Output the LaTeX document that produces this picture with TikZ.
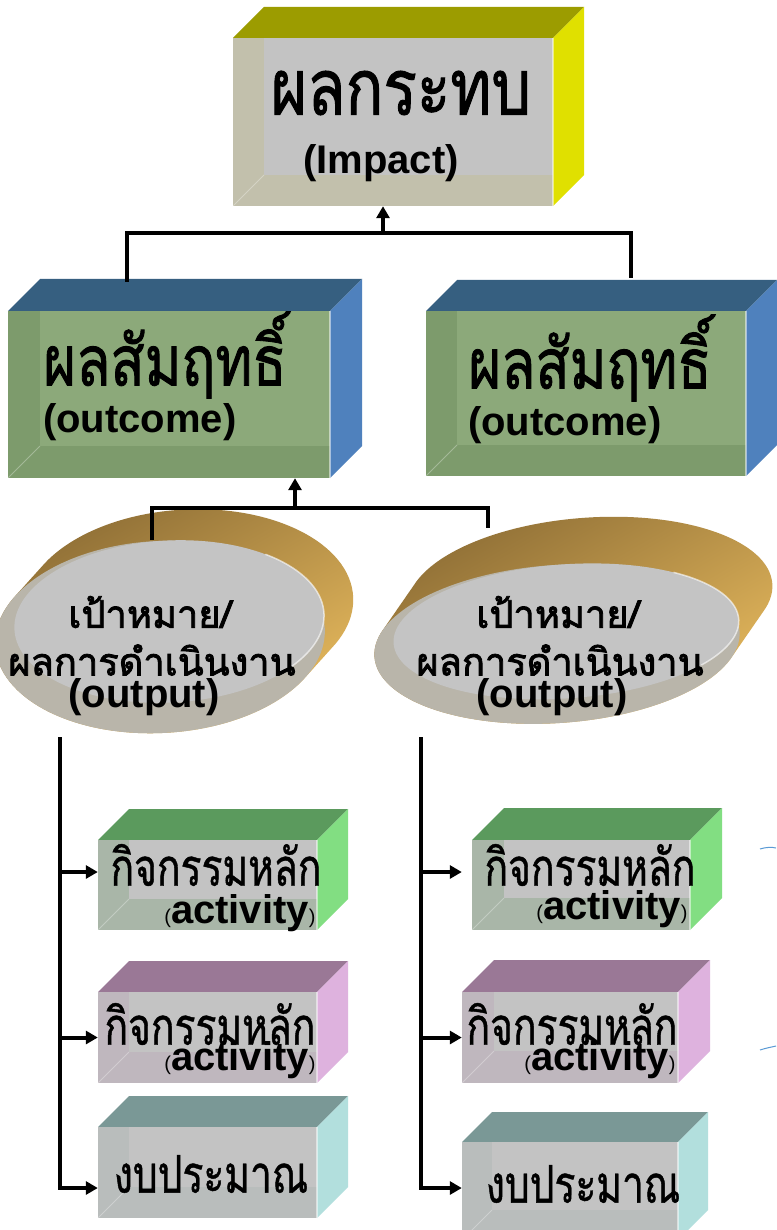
\documentclass[tikz,border=0pt]{standalone}
\usepackage{fontspec}
\setmainfont{Liberation Sans}
\newfontfamily\thaiS[Script=Thai,FakeStretch=0.8,FakeBold=1.2]{Loma}
\newfontfamily\thaiA[Script=Thai,FakeStretch=0.75,FakeBold=0.8]{Loma}
\newfontfamily\thaiB[Script=Thai,FakeBold=2.2]{Loma}
\usetikzlibrary{arrows.meta,shapes.geometric}
\definecolor{impTop}{HTML}{9C9C00}
\definecolor{impRight}{HTML}{E0E000}
\definecolor{impStrip}{HTML}{C2C0AC}
\definecolor{outTop}{HTML}{365F80}
\definecolor{outRight}{HTML}{4F81BD}
\definecolor{outStrip}{HTML}{7D9B6C}
\definecolor{outInner}{HTML}{8CA97A}
\definecolor{grnTop}{HTML}{5B9A5D}
\definecolor{grnRight}{HTML}{82DE82}
\definecolor{grnStrip}{HTML}{A9B6A8}
\definecolor{purTop}{HTML}{9A7896}
\definecolor{purRight}{HTML}{DEB2DE}
\definecolor{purStrip}{HTML}{BFB7BE}
\definecolor{tealTop}{HTML}{7A9896}
\definecolor{tealRight}{HTML}{B2DFDD}
\definecolor{tealStrip}{HTML}{B9BDBC}
\definecolor{grayInner}{HTML}{C3C3C3}
\definecolor{goldTop}{HTML}{8F6F36}
\definecolor{goldMid}{HTML}{B8904A}
\definecolor{goldBot}{HTML}{E6B95D}
\definecolor{ellOuter}{HTML}{B9B5AA}
\definecolor{ellInner}{HTML}{C4C4C4}
\definecolor{arcBlue}{HTML}{5B9BD5}
\newcommand\cubeinner{grayInner}
\newcommand\cubebox[9]{%
  \fill[#7] (#2,#3) -- ({#2+#6},{#3-#6}) -- ({#4+#6},{#3-#6}) -- (#4,#3) -- cycle;
  \fill[#8] (#4,#3) -- ({#4+#6},{#3-#6}) -- ({#4+#6},{#5-#6}) -- (#4,#5) -- cycle;
  \fill[#9] (#2,#3) rectangle (#4,#5);
  \fill[\cubeinner] ({#2+#6},#3) rectangle (#4,{#5-#6});
  \draw[white,opacity=0.3,line width=1pt] (#2,#5) -- ({#2+#6},{#5-#6});
  \draw[white,opacity=0.5,line width=1.5pt] (#4,#3) -- (#4,#5);
  \node[inner sep=0,minimum width={(#4-#2)*1pt},minimum height={(#5-#3)*1pt}] (#1) at ({(#2+#4)/2},{(#3+#5)/2}) {};
}
\tikzset{
  ln/.style={line width=4pt,line join=miter},
  arr/.style={line width=4pt,line join=miter,-{Triangle[length=12pt,width=13pt]}},
  impthai/.style={font=\thaiS\fontsize{78}{80}\selectfont,inner sep=0},
  outthai/.style={font=\thaiS\fontsize{70}{72}\selectfont,inner sep=0},
  midlat/.style={font=\bfseries\fontsize{40}{42}\selectfont,inner sep=0},
  ellthai/.style={font=\thaiB\fontsize{38}{40}\selectfont,inner sep=0},
  actthai/.style={font=\thaiA\fontsize{52}{54}\selectfont,inner sep=0},
  gold/.style={top color=goldTop,middle color=goldMid,bottom color=goldBot,shading angle=30},
}
\newcommand\actlabel{{\fontsize{20}{20}\selectfont(}\textbf{\fontsize{40}{40}\selectfont activity}{\fontsize{20}{20}\selectfont)}}
\begin{document}
\begin{tikzpicture}[x=1pt,y=-1pt]
\useasboundingbox (0,0) rectangle (776,1230);
\fill[white] (0,0) rectangle (776,1230);
% ---- boxes
\cubebox{imp}{233}{38}{553}{206}{31}{impTop}{impRight}{impStrip}
\renewcommand\cubeinner{outInner}
\cubebox{outL}{8}{311}{330}{478}{32}{outTop}{outRight}{outStrip}
\cubebox{outR}{426}{311}{746}{476}{31}{outTop}{outRight}{outStrip}
\renewcommand\cubeinner{grayInner}
\cubebox{actL1}{98}{840}{317}{930}{31}{grnTop}{grnRight}{grnStrip}
\cubebox{actL2}{98}{992}{317}{1083}{31}{purTop}{purRight}{purStrip}
\cubebox{budL}{98}{1127}{317}{1218}{31}{tealTop}{tealRight}{tealStrip}
\cubebox{actR1}{472}{840}{690}{930}{32}{grnTop}{grnRight}{grnStrip}
\cubebox{actR2}{462}{992}{678}{1083}{32}{purTop}{purRight}{purStrip}
\cubebox{budR}{462}{1142}{678}{1240}{30}{tealTop}{tealRight}{tealStrip}
% ---- ellipses (extruded discs)
\begin{scope}[shift={(160,637)},rotate=3]
  \path[gold]
    foreach \t in {0,2,...,30} { (\t,-\t) ellipse [x radius=165,y radius=96] };
  \fill[ellOuter] (0,0) ellipse [x radius=165,y radius=96];
  \fill[ellInner] (10,-15) ellipse [x radius=155,y radius=81];
  \draw[white,opacity=0.6,line width=1.5pt] (10,-15) ++(-50:155 and 81) arc [start angle=-50,end angle=40,x radius=155,y radius=81];
  \node[ellipse,inner sep=0,minimum width=330pt,minimum height=192pt] (ellL) at (0,0) {};
\end{scope}
\begin{scope}[shift={(557,644)},rotate=4]
  \path[gold]
    foreach \t in {0,2,...,36} { (\t,{-\t*1.25}) ellipse [x radius=183,y radius=79] };
  \fill[ellOuter] (0,0) ellipse [x radius=183,y radius=79];
  \fill[ellInner] (10,-12) ellipse [x radius=173,y radius=67];
  \draw[white,opacity=0.6,line width=1.5pt] (10,-12) ++(-50:173 and 67) arc [start angle=-50,end angle=40,x radius=173,y radius=67];
  \node[ellipse,inner sep=0,minimum width=366pt,minimum height=158pt] (ellR) at (0,0) {};
\end{scope}
% ---- texts
\node[impthai] at (401,93) {ผลกระทบ};
\node[midlat] at (381,163) {(Impact)};
\node[outthai] at (165,355) {ผลสัมฤทธิ์};
\node[midlat,anchor=west] at (43,422) {(outcome)};
\node[outthai] at (590,358) {ผลสัมฤทธิ์};
\node[midlat,anchor=west] at (468,425) {(outcome)};
\node[ellthai] at (150,612) {เป้าหมาย/};
\node[ellthai] at (152,660) {ผลการดำเนินงาน};
\node[midlat] at (144,697) {(output)};
\node[ellthai] at (558,612) {เป้าหมาย/};
\node[ellthai] at (560,660) {ผลการดำเนินงาน};
\node[midlat] at (552,697) {(output)};
\node[actthai] at (216,865) {กิจกรรมหลัก};
\node[inner sep=0] at (240,913) {\actlabel};
\node[actthai] at (210,1024) {กิจกรรมหลัก};
\node[inner sep=0] at (240,1060) {\actlabel};
\node[actthai] at (211,1174) {งบประมาณ};
\node[actthai] at (590,865) {กิจกรรมหลัก};
\node[inner sep=0] at (612,909) {\actlabel};
\node[actthai] at (572,1024) {กิจกรรมหลัก};
\node[inner sep=0] at (600,1060) {\actlabel};
\node[actthai] at (583,1184) {งบประมาณ};
% ---- connectors
\coordinate (jTop) at (383,233);
\coordinate (hL) at (127,233);
\coordinate (hR) at (631,233);
\coordinate (tL) at (127,282);
\coordinate (tR) at (631,278);
\draw[ln] (tL) -- (hL) -- (hR) -- (tR);
\draw[arr] (jTop) -- (jTop |- imp.south);
\coordinate (eL) at (152,540);
\coordinate (eR) at (488,528);
\coordinate (h2L) at (152,508);
\coordinate (h2R) at (488,508);
\coordinate (j2) at (295,508);
\draw[ln] (eL) -- (h2L) -- (h2R) -- (eR);
\draw[arr] (j2) -- (j2 |- outL.south);
% left column
\coordinate (vL) at (60,737);
\path ([yshift=13pt]actL1.west) coordinate (aL1);
\path (actL2.west) coordinate (aL2);
\path ([yshift=-15.5pt]budL.west) coordinate (aL3);
\draw[arr] (vL) -- (vL |- aL3) -- (aL3);
\draw[arr] (aL1 -| vL) -- (aL1);
\draw[arr] (aL2 -| vL) -- (aL2);
% right column
\coordinate (vR) at (421,737);
\path ([xshift=-10pt,yshift=13pt]actR1.west) coordinate (aR1);
\path (actR2.west) coordinate (aR2);
\path ([yshift=3pt]budR.west) coordinate (aR3);
\draw[arr] (vR) -- (vR |- aR3) -- (aR3);
\draw[arr] (aR1 -| vR) -- (aR1);
\draw[arr] (aR2 -| vR) -- (aR2);
% faint blue arc fragments at the right edge
\draw[arcBlue,line width=1pt] (760,849) .. controls (766,847) and (772,847) .. (776,848);
\draw[arcBlue,line width=1pt] (760,1050) .. controls (766,1048) and (772,1047) .. (776,1046);
\end{tikzpicture}
\end{document}
